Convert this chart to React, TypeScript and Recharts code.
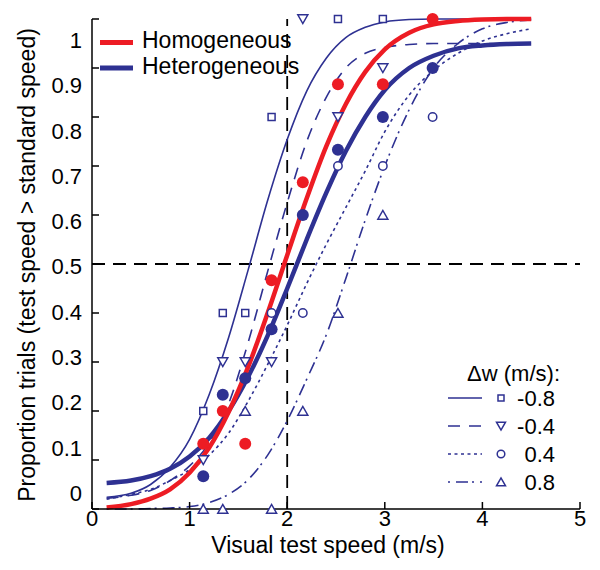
import React from 'react';
import { ComposedChart, Line, Scatter, XAxis, YAxis, ReferenceLine, Legend } from 'recharts';

const BLUE = '#2E3192';
const RED = '#ED1C24';
const FONT = '"Liberation Sans", Arial, Helvetica, sans-serif';

// axis ticks
const xTicks = [0, 1, 2, 3, 4, 5];
const yTicks = [0, 0.1, 0.2, 0.3, 0.4, 0.5, 0.6, 0.7, 0.8, 0.9, 1];

// observed proportions at each visual test speed (m/s)
const speeds = [1.14, 1.34, 1.57, 1.84, 2.16, 2.52, 2.98, 3.49];
const homogeneousObs = [0.133, 0.2, 0.133, 0.467, 0.667, 0.867, 0.867, 1.0];
const heterogeneousObs = [0.067, 0.233, 0.267, 0.367, 0.6, 0.733, 0.8, 0.9];
const dwMinus08Obs = [0.2, 0.4, 0.4, 0.8, null, 1.0, 1.0, null];
const dwMinus04Obs = [0.1, 0.3, 0.3, 0.3, 1.0, 0.8, 0.9, null];
const dwPlus04Obs = [null, null, null, 0.4, 0.4, 0.7, 0.7, 0.8];
const dwPlus08Obs = [0, 0, 0.2, 0, 0.2, 0.4, 0.6, null];

// fitted psychometric curves
const curveX = [0.15, 0.4, 0.6, 0.8, 1.0, 1.2, 1.4, 1.6, 1.8, 2.0, 2.2, 2.4, 2.6, 2.8, 3.0, 3.25, 3.5, 3.75, 4.0, 4.25, 4.5];
const homogeneousFit = [0.003, 0.01, 0.021, 0.04, 0.074, 0.125, 0.198, 0.29, 0.4, 0.518, 0.634, 0.74, 0.826, 0.892, 0.938, 0.972, 0.989, 0.996, 0.999, 1.0, 1.0];
const heterogeneousFit = [0.053, 0.058, 0.067, 0.082, 0.107, 0.145, 0.2, 0.27, 0.354, 0.45, 0.55, 0.645, 0.73, 0.8, 0.855, 0.9, 0.925, 0.94, 0.946, 0.949, 0.95];
const dwMinus08Fit = [0.024, 0.032, 0.05, 0.085, 0.142, 0.233, 0.35, 0.488, 0.63, 0.754, 0.853, 0.92, 0.962, 0.983, 0.994, 0.999, 1.0, 1.0, 1.0, 1.0, 1.0];
const dwMinus04Fit = [0.022, 0.028, 0.038, 0.058, 0.088, 0.135, 0.215, 0.34, 0.485, 0.625, 0.75, 0.84, 0.9, 0.93, 0.942, 0.948, 0.95, 0.95, 0.95, 0.95, 0.95];
const dwPlus04Fit = [0.02, 0.03, 0.04, 0.058, 0.08, 0.11, 0.155, 0.22, 0.295, 0.375, 0.46, 0.54, 0.615, 0.69, 0.77, 0.845, 0.895, 0.93, 0.955, 0.97, 0.98];
const dwPlus08Fit = [0.0, 0.0, 0.001, 0.002, 0.005, 0.013, 0.03, 0.06, 0.11, 0.18, 0.265, 0.355, 0.47, 0.59, 0.7, 0.815, 0.9, 0.95, 0.98, 0.993, 0.998];

const curveTable = curveX.map((x, i) => ({
  x,
  hom: homogeneousFit[i],
  het: heterogeneousFit[i],
  m08: dwMinus08Fit[i],
  m04: dwMinus04Fit[i],
  p04: dwPlus04Fit[i],
  p08: dwPlus08Fit[i],
}));

const toPoints = (vals: (number | null)[]) =>
  speeds.map((x, i) => ({ x, y: vals[i] })).filter((p) => p.y !== null);

// marker shapes
const SquareMark = ({ cx, cy, s = 7 }: any) => (
  <rect x={cx - s / 2} y={cy - s / 2} width={s} height={s} fill="#fff" stroke={BLUE} strokeWidth={1.5} />
);
const TriDownMark = ({ cx, cy, s = 10 }: any) => (
  <polygon
    points={`${cx - s / 2},${cy - s * 0.42} ${cx + s / 2},${cy - s * 0.42} ${cx},${cy + s * 0.45}`}
    fill="#fff"
    stroke={BLUE}
    strokeWidth={1.5}
  />
);
const TriUpMark = ({ cx, cy, s = 10 }: any) => (
  <polygon
    points={`${cx - s / 2},${cy + s * 0.42} ${cx + s / 2},${cy + s * 0.42} ${cx},${cy - s * 0.45}`}
    fill="#fff"
    stroke={BLUE}
    strokeWidth={1.5}
  />
);
const OpenCircleMark = ({ cx, cy, r = 4.2 }: any) => (
  <circle cx={cx} cy={cy} r={r} fill="#fff" stroke={BLUE} strokeWidth={1.5} />
);
const DotMark = ({ cx, cy, color }: any) => <circle cx={cx} cy={cy} r={6} fill={color} />;

const fmt = (v: number) => (v === 0 ? '0' : v === 1 ? '1' : v.toFixed(1));

// ticks (inward, as in the MATLAB box)
const LeftTick = (props: any) => {
  const { x, y, payload } = props;
  const v = payload.value;
  const shift = -16 + 37 * v;
  return (
    <g>
      <line x1={x} y1={y} x2={x + 7} y2={y} stroke="#000" strokeWidth={1.5} />
      <text x={x - 10} y={y + shift} dy="0.36em" textAnchor="end" fontSize={22} fontFamily={FONT} fill="#000">
        {fmt(v)}
      </text>
    </g>
  );
};
const RightTick = (props: any) => {
  const { x, y } = props;
  return <line x1={x} y1={y} x2={x - 7} y2={y} stroke="#000" strokeWidth={1.5} />;
};
const BottomTick = (props: any) => {
  const { x, y, payload } = props;
  return (
    <g>
      <line x1={x} y1={y} x2={x} y2={y - 7} stroke="#000" strokeWidth={1.5} />
      <text x={x} y={y + 16.5} textAnchor="middle" fontSize={22} fontFamily={FONT} fill="#000">
        {payload.value}
      </text>
    </g>
  );
};
const TopTick = (props: any) => {
  const { x, y } = props;
  return <line x1={x} y1={y} x2={x} y2={y + 7} stroke="#000" strokeWidth={1.5} />;
};

const W = 584;
const H = 554;

const dwLegend = [
  { label: '-0.8', dash: undefined, mark: 'sq' },
  { label: '-0.4', dash: '12 9', mark: 'td' },
  { label: '0.4', dash: '3 3.5', mark: 'oc' },
  { label: '0.8', dash: '2 6 12 4', mark: 'tu' },
];

const Overlay = () => (
  <svg width={W} height={H} style={{ position: 'absolute', left: 0, top: 0, overflow: 'visible' }}>
    {/* series legend */}
    <line x1={92} y1={34.5} x2={125} y2={34.5} stroke={RED} strokeWidth={5} />
    <text x={134} y={40} fontSize={23} fontFamily={FONT} fill="#000">Homogeneous</text>
    <line x1={92} y1={60} x2={125} y2={60} stroke={BLUE} strokeWidth={5} />
    <text x={134} y={66} fontSize={23} fontFamily={FONT} fill="#000">Heterogeneous</text>

    {/* Δw legend */}
    <text x={552} y={373} textAnchor="end" fontSize={22} fontFamily={FONT} fill="#000">Δw (m/s):</text>
    {dwLegend.map((d, i) => {
      const cy = 390 + i * 28;
      return (
        <g key={d.label}>
          <line x1={440} y1={cy} x2={474} y2={cy} stroke={BLUE} strokeWidth={1.6} strokeDasharray={d.dash} />
          {d.mark === 'sq' && <SquareMark cx={493} cy={cy} s={6} />}
          {d.mark === 'td' && <TriDownMark cx={493} cy={cy} s={9} />}
          {d.mark === 'oc' && <OpenCircleMark cx={493} cy={cy} r={3.8} />}
          {d.mark === 'tu' && <TriUpMark cx={493} cy={cy} s={9} />}
          <text x={547} y={cy + 8} textAnchor="end" fontSize={22} fontFamily={FONT} fill="#000">
            {d.label}
          </text>
        </g>
      );
    })}

    {/* axis titles */}
    <text x={320} y={545} textAnchor="middle" fontSize={23} fontFamily={FONT} fill="#000">
      Visual test speed (m/s)
    </text>
    <text
      x={27}
      y={257}
      textAnchor="middle"
      fontSize={23}
      fontFamily={FONT}
      fill="#000"
      transform="rotate(-90, 27, 257)"
    >
      Proportion trials (test speed &gt; standard speed)
    </text>
  </svg>
);

export default function App() {
  return (
    <div style={{ width: W, height: H, background: '#fff' }}>
      <ComposedChart width={W} height={H} data={curveTable} margin={{ top: 11, right: 12, bottom: 13, left: 24 }}>
        <XAxis
          dataKey="x"
          type="number"
          domain={[0, 5]}
          ticks={xTicks}
          height={40}
          tickSize={0}
          tickMargin={0}
          tickLine={false}
          axisLine={{ stroke: '#000', strokeWidth: 1.5 }}
          tick={<BottomTick />}
          interval={0}
        />
        <XAxis
          xAxisId="top"
          orientation="top"
          dataKey="x"
          type="number"
          domain={[0, 5]}
          ticks={xTicks}
          height={0}
          tickSize={0}
          tickMargin={0}
          tickLine={false}
          axisLine={{ stroke: '#000', strokeWidth: 1.5 }}
          tick={<TopTick />}
          interval={0}
        />
        <YAxis
          type="number"
          domain={[0, 1]}
          ticks={yTicks}
          width={60}
          tickSize={0}
          tickMargin={0}
          tickLine={false}
          axisLine={{ stroke: '#000', strokeWidth: 1.5 }}
          tick={<LeftTick />}
          interval={0}
        />
        <YAxis
          yAxisId="right"
          orientation="right"
          type="number"
          domain={[0, 1]}
          ticks={yTicks}
          width={0}
          tickSize={0}
          tickMargin={0}
          tickLine={false}
          axisLine={{ stroke: '#000', strokeWidth: 1.5 }}
          tick={<RightTick />}
          interval={0}
        />

        <ReferenceLine x={2} stroke="#000" strokeWidth={1.8} strokeDasharray="13 8" />
        <ReferenceLine y={0.5} stroke="#000" strokeWidth={1.8} strokeDasharray="13 8" />

        <Line dataKey="m08" type="monotone" stroke={BLUE} strokeWidth={1.6} dot={false} activeDot={false} isAnimationActive={false} />
        <Line dataKey="m04" type="monotone" stroke={BLUE} strokeWidth={1.6} strokeDasharray="12 9" dot={false} activeDot={false} isAnimationActive={false} />
        <Line dataKey="p04" type="monotone" stroke={BLUE} strokeWidth={1.6} strokeDasharray="3 3.5" dot={false} activeDot={false} isAnimationActive={false} />
        <Line dataKey="p08" type="monotone" stroke={BLUE} strokeWidth={1.6} strokeDasharray="2 6 12 4" dot={false} activeDot={false} isAnimationActive={false} />
        <Line dataKey="het" type="monotone" stroke={BLUE} strokeWidth={4.5} dot={false} activeDot={false} isAnimationActive={false} />
        <Line dataKey="hom" type="monotone" stroke={RED} strokeWidth={4.5} dot={false} activeDot={false} isAnimationActive={false} />

        <Scatter data={toPoints(dwMinus08Obs)} dataKey="y" isAnimationActive={false} shape={(p: any) => <SquareMark cx={p.cx} cy={p.cy} />} />
        <Scatter data={toPoints(dwMinus04Obs)} dataKey="y" isAnimationActive={false} shape={(p: any) => <TriDownMark cx={p.cx} cy={p.cy} />} />
        <Scatter data={toPoints(dwPlus04Obs)} dataKey="y" isAnimationActive={false} shape={(p: any) => <OpenCircleMark cx={p.cx} cy={p.cy} />} />
        <Scatter data={toPoints(dwPlus08Obs)} dataKey="y" isAnimationActive={false} shape={(p: any) => <TriUpMark cx={p.cx} cy={p.cy} />} />
        <Scatter data={toPoints(heterogeneousObs)} dataKey="y" isAnimationActive={false} shape={(p: any) => <DotMark cx={p.cx} cy={p.cy} color={BLUE} />} />
        <Scatter data={toPoints(homogeneousObs)} dataKey="y" isAnimationActive={false} shape={(p: any) => <DotMark cx={p.cx} cy={p.cy} color={RED} />} />

        <Legend
          layout="horizontal"
          verticalAlign="middle"
          align="center"
          wrapperStyle={{ position: 'absolute', left: 0, top: 0, width: W, height: H, pointerEvents: 'none' }}
          content={() => <Overlay />}
        />
      </ComposedChart>
    </div>
  );
}
